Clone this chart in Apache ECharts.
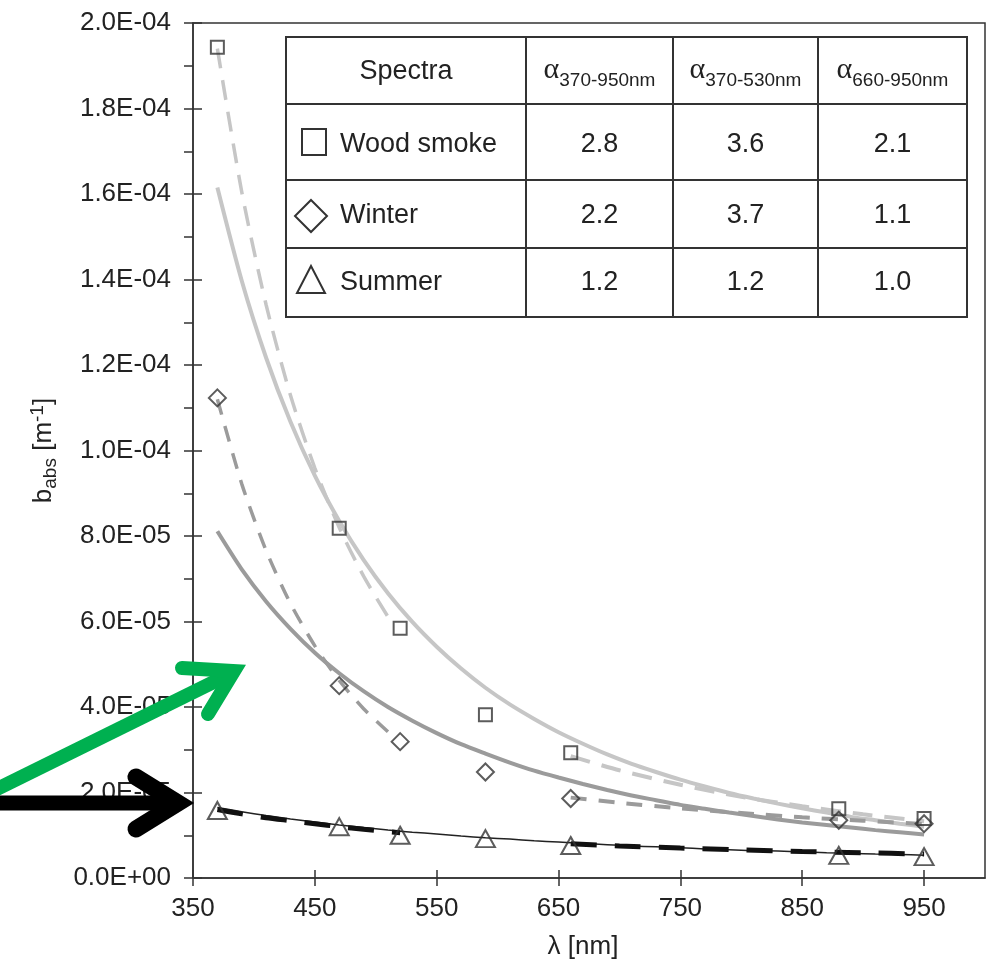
<!DOCTYPE html>
<html>
<head>
<meta charset="utf-8">
<script src="https://cdn.jsdelivr.net/npm/echarts@6/dist/echarts.min.js"></script>
<style>
  html, body { margin: 0; padding: 0; background: #fff; }
  #chart { width: 995px; height: 965px; }
</style>
</head>
<body>
<div id="chart"></div>
<script>
// ---------- DATA (values in units of 1e-6 m^-1) ----------
const UNIT = 1e-6;
const pointX       = [370, 470, 520, 590, 660, 880, 950];
const woodSmoke    = [194.3, 81.8, 58.4, 38.2, 29.3, 16.2, 13.9];
const winter       = [112.3, 45.0, 31.9, 24.8, 18.6, 13.5, 12.7];
const summer       = [15.8, 12.0, 10.0, 9.2, 7.6, 5.3, 5.0];

// full-range fits (solid curves), read at these wavelengths
const fitX      = [370, 390, 410, 430, 450, 470, 490, 510, 530, 550, 570, 590, 610, 630, 650,
                   670, 690, 710, 730, 750, 770, 790, 810, 830, 850, 870, 890, 910, 930, 950];
const woodFit   = [161.5, 139.7, 121.7, 106.7, 94.1, 83.5, 74.4, 66.6, 59.9, 54.1, 49.0, 44.5, 40.6, 37.2, 34.1,
                   31.4, 28.9, 26.7, 24.8, 23.0, 21.4, 19.9, 18.6, 17.4, 16.3, 15.3, 14.3, 13.5, 12.7, 12.0];
const winterFit = [81.1, 72.2, 64.7, 58.3, 52.7, 47.9, 43.7, 40.0, 36.8, 33.9, 31.3, 29.1, 27.0, 25.1, 23.5,
                   22.0, 20.6, 19.3, 18.2, 17.1, 16.2, 15.3, 14.5, 13.7, 13.0, 12.4, 11.8, 11.2, 10.7, 10.2];
const summerFit = [16.5, 15.5, 14.6, 13.8, 13.1, 12.4, 11.8, 11.2, 10.7, 10.3, 9.8, 9.4, 9.1, 8.7, 8.4,
                   8.1, 7.8, 7.5, 7.3, 7.1, 6.8, 6.6, 6.4, 6.3, 6.1, 5.9, 5.8, 5.6, 5.5, 5.3];

// short-range fits (dashed, 370-530 nm)
const shortX       = [370, 390, 410, 430, 450, 470, 490, 510];
const woodShort    = [194, 160.5, 134.1, 112.9, 95.9, 82.0, 70.6, 61.1];
const winterShort  = [112, 92.2, 76.6, 64.2, 54.3, 46.2, 39.6, 34.2];
const summerShortX = [370, 390, 410, 430, 450, 470, 490, 520];
const summerShort  = [16.0, 15.0, 14.1, 13.4, 12.7, 12.0, 11.4, 10.6];

// long-range fits (dashed, 660-950 nm)
const longX        = [660, 700, 750, 800, 850, 900, 950];
const woodLong     = [28.5, 25.2, 21.8, 19.0, 16.8, 14.9, 13.3];
const winterLong   = [18.8, 17.6, 16.3, 15.2, 14.2, 13.4, 12.6];
const summerLong   = [8.0, 7.5, 7.0, 6.6, 6.2, 5.9, 5.6];

const xTicks = [350, 450, 550, 650, 750, 850, 950];

// table
const tableHead   = ['Spectra'];
const alphaSubs   = ['370-950nm', '370-530nm', '660-950nm'];
const rowNames    = ['Wood smoke', 'Winter', 'Summer'];
const rowValues   = [['2.8', '3.6', '2.1'], ['2.2', '3.7', '1.1'], ['1.2', '1.2', '1.0']];

// ---------- helpers ----------
const pairs = (xs, ys) => xs.map((x, i) => [x, ys[i] * UNIT]);
const FONT = '"Liberation Sans", Arial, Helvetica, sans-serif';
const INK = '#333';

function fmtY(v) {
  const [m, e] = Number(v).toExponential(1).split('e');
  const n = parseInt(e, 10);
  const sign = n < 0 ? '-' : '+';
  const abs = Math.abs(n);
  return m + 'E' + sign + (abs < 10 ? '0' + abs : String(abs));
}

// ---------- table graphic ----------
const colEdges = [286, 526, 673, 818, 967];
const rowEdges = [37, 104, 180, 248, 317];
const tableEls = [];
tableEls.push({ type: 'rect', shape: { x: colEdges[0], y: rowEdges[0], width: colEdges[4] - colEdges[0], height: rowEdges[4] - rowEdges[0] },
  style: { fill: '#fff', stroke: INK, lineWidth: 2 }, z: 50 });
for (let i = 1; i < colEdges.length - 1; i++) {
  tableEls.push({ type: 'line', shape: { x1: colEdges[i], y1: rowEdges[0], x2: colEdges[i], y2: rowEdges[4] }, style: { stroke: INK, lineWidth: 2 }, z: 51 });
}
for (let j = 1; j < rowEdges.length - 1; j++) {
  tableEls.push({ type: 'line', shape: { x1: colEdges[0], y1: rowEdges[j], x2: colEdges[4], y2: rowEdges[j] }, style: { stroke: INK, lineWidth: 2 }, z: 51 });
}
const colC = i => (colEdges[i] + colEdges[i + 1]) / 2;
const rowC = [72, 145, 216, 283];
tableEls.push({ type: 'text', x: colC(0), y: rowC[0], z: 52,
  style: { text: tableHead[0], font: '27px ' + FONT, fill: '#222', align: 'center', verticalAlign: 'middle' } });
alphaSubs.forEach((s, i) => {
  tableEls.push({ type: 'text', x: colC(i + 1), y: 69, z: 52,
    style: { text: '{a|α}{s|' + s + '}', align: 'center', verticalAlign: 'middle', fill: '#222',
      rich: {
        a: { fontFamily: '"Liberation Serif", "Times New Roman", serif', fontSize: 30, lineHeight: 28, verticalAlign: 'top', fill: '#222' },
        s: { fontFamily: FONT, fontSize: 19, lineHeight: 19, verticalAlign: 'top', padding: [16, 0, 0, 0], fill: '#222' }
      } } });
});
rowNames.forEach((n, r) => {
  tableEls.push({ type: 'text', x: 340, y: rowC[r + 1], z: 52,
    style: { text: n, font: '27px ' + FONT, fill: '#222', align: 'left', verticalAlign: 'middle' } });
  rowValues[r].forEach((v, c) => {
    tableEls.push({ type: 'text', x: colC(c + 1), y: rowC[r + 1], z: 52,
      style: { text: v, font: '27px ' + FONT, fill: '#222', align: 'center', verticalAlign: 'middle' } });
  });
});
// legend icons in table
tableEls.push({ type: 'rect', shape: { x: 302, y: 129, width: 24, height: 26 }, style: { fill: 'none', stroke: INK, lineWidth: 2 }, z: 52 });
tableEls.push({ type: 'polygon', shape: { points: [[311, 200], [327, 216], [311, 232], [295, 216]] }, style: { fill: 'none', stroke: INK, lineWidth: 2 }, z: 52 });
tableEls.push({ type: 'polygon', shape: { points: [[311, 266], [325, 293], [297, 293]] }, style: { fill: 'none', stroke: INK, lineWidth: 2 }, z: 52 });

// ---------- annotation arrows ----------
const arrowEls = [
  { type: 'line', shape: { x1: -5, y1: 790, x2: 234, y2: 672 }, style: { stroke: '#00b050', lineWidth: 14, lineCap: 'butt' }, z: 60 },
  { type: 'polyline', shape: { points: [[182, 668], [234, 671], [208, 714]] }, style: { stroke: '#00b050', lineWidth: 14, lineCap: 'round', lineJoin: 'miter', miterLimit: 10, fill: 'none' }, z: 60 },
  { type: 'line', shape: { x1: -5, y1: 803, x2: 178, y2: 803 }, style: { stroke: '#000', lineWidth: 15, lineCap: 'butt' }, z: 61 },
  { type: 'polyline', shape: { points: [[136, 777], [178, 803], [136, 829]] }, style: { stroke: '#000', lineWidth: 17, lineCap: 'round', lineJoin: 'miter', miterLimit: 10, fill: 'none' }, z: 61 }
];

// ---------- series ----------
const LIGHT = '#c6c6c6', MID = '#9b9b9b', DARK = '#111';
function lineSeries(data, color, width, type, z) {
  return { type: 'line', data, showSymbol: false, smooth: 0.25, silent: true,
    lineStyle: { color, width, type, cap: 'butt' }, z: z || 2, animation: false };
}
function pointSeries(data, symbol, size) {
  return { type: 'scatter', data, symbol, symbolSize: size, z: 10, animation: false,
    itemStyle: { color: 'rgba(255,255,255,0)', borderColor: INK, borderWidth: 2 } };
}

const option = {
  animation: false,
  backgroundColor: '#fff',
  grid: { left: 193, right: 10, top: 23, bottom: 85.5, show: true, borderColor: INK, borderWidth: 1.5, backgroundColor: 'transparent' },
  xAxis: [{
    type: 'value', min: 350, max: 1000, interval: 100, position: 'bottom',
    name: 'λ [nm]', nameLocation: 'middle', nameGap: 56,
    nameTextStyle: { fontFamily: FONT, fontSize: 26, color: '#222', padding: [0, 12, 0, 0] },
    axisLine: { show: true, lineStyle: { color: INK, width: 1.5 } },
    axisTick: { show: true, length: 8, lineStyle: { color: INK, width: 1.5 }, customValues: xTicks },
    axisLabel: { fontFamily: FONT, fontSize: 26, color: '#222', margin: 18, customValues: xTicks },
    splitLine: { show: false }
  }, {
    type: 'value', min: 350, max: 1000, interval: 100, position: 'bottom',
    axisLine: { show: false }, axisLabel: { show: false }, splitLine: { show: false },
    axisTick: { show: true, inside: true, length: 8, lineStyle: { color: INK, width: 1.5 }, customValues: xTicks }
  }],
  yAxis: [{
    type: 'value', min: 0, max: 2e-4, interval: 2e-5, position: 'left',
    name: 'b{sub|abs} [m{sup|-1}]', nameLocation: 'middle', nameGap: 133, nameRotate: 90,
    nameTextStyle: { fontFamily: FONT, fontSize: 26, lineHeight: 32, color: '#222',
      rich: {
        sub: { fontFamily: FONT, fontSize: 19, lineHeight: 19, verticalAlign: 'bottom', color: '#222' },
        sup: { fontFamily: FONT, fontSize: 19, lineHeight: 19, verticalAlign: 'top', color: '#222' }
      } },
    axisLine: { show: true, lineStyle: { color: INK, width: 1.5 } },
    axisTick: { show: true, length: 9, lineStyle: { color: INK, width: 1.5 } },
    minorTick: { show: true, splitNumber: 2, length: 9, lineStyle: { color: INK, width: 1.5 } },
    axisLabel: { fontFamily: FONT, fontSize: 26, color: '#222', margin: 22, formatter: fmtY },
    splitLine: { show: false }
  }, {
    type: 'value', min: 0, max: 2e-4, interval: 2e-5, position: 'left',
    axisLine: { show: false }, axisLabel: { show: false }, splitLine: { show: false },
    axisTick: { show: true, inside: true, length: 9, lineStyle: { color: INK, width: 1.5 } }
  }],
  graphic: [...tableEls, ...arrowEls],
  series: [
    Object.assign(lineSeries(pairs(fitX, woodFit), LIGHT, 4, 'solid', 2), { name: 'Wood smoke fit' }),
    Object.assign(lineSeries(pairs(fitX, winterFit), MID, 4, 'solid', 3), { name: 'Winter fit' }),
    Object.assign(lineSeries(pairs(fitX, summerFit), '#222', 1.5, 'solid', 4), { name: 'Summer fit' }),
    lineSeries(pairs(shortX, woodShort), LIGHT, 3.5, [20, 12], 2),
    lineSeries(pairs(longX, woodLong), LIGHT, 4, [20, 12], 2),
    lineSeries(pairs(shortX, winterShort), MID, 3.5, [16, 12], 3),
    lineSeries(pairs(longX, winterLong), MID, 4, [16, 12], 3),
    lineSeries(pairs(summerShortX, summerShort), DARK, 5, [26, 18], 5),
    lineSeries(pairs(longX, summerLong), DARK, 5, [26, 18], 5),
    Object.assign(pointSeries(pairs(pointX, woodSmoke), 'rect', 13), { name: 'Wood smoke' }),
    Object.assign(pointSeries(pairs(pointX, winter), 'diamond', [17, 17]), { name: 'Winter' }),
    Object.assign(pointSeries(pairs(pointX, summer), 'triangle', [19, 17]), { name: 'Summer' })
  ]
};

const chart = echarts.init(document.getElementById('chart'), null, { renderer: 'canvas' });
chart.setOption(option);
</script>
</body>
</html>
